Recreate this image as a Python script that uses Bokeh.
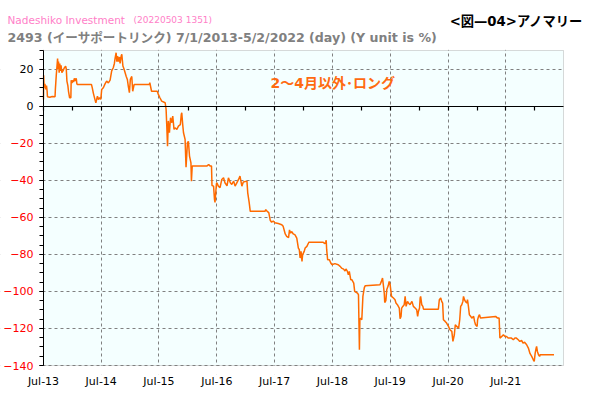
import pandas as pd
from bokeh.plotting import figure
from bokeh.layouts import column
from bokeh.models import (Range1d, FixedTicker, DatetimeTickFormatter, Label, ColumnDataSource,
                          LinearAxis, CustomJSTickFormatter, BoxAnnotation)
from bokeh.embed import file_html
from bokeh.resources import INLINE

# ---------------- data ----------------
dates = [
    "2013-07-01", "2013-07-02", "2013-07-05", "2013-07-10", "2013-07-15", "2013-07-20", "2013-07-24",
    "2013-07-26", "2013-08-10", "2013-08-25", "2013-09-12", "2013-09-14", "2013-09-20", "2013-09-28",
    "2013-10-02", "2013-10-04", "2013-10-08", "2013-10-12", "2013-10-15", "2013-10-20", "2013-10-25",
    "2013-11-01", "2013-11-10", "2013-11-18", "2013-11-22", "2013-11-26", "2013-12-02", "2013-12-06",
    "2013-12-13", "2013-12-21", "2013-12-23", "2013-12-28", "2014-01-03", "2014-01-07", "2014-01-12",
    "2014-01-18", "2014-01-24", "2014-01-28", "2014-01-31", "2014-04-30", "2014-05-05", "2014-05-12",
    "2014-05-18", "2014-05-22", "2014-05-28", "2014-06-03", "2014-06-07", "2014-06-13", "2014-06-20",
    "2014-06-28", "2014-07-04", "2014-07-15", "2014-07-25", "2014-08-04", "2014-08-15", "2014-08-26",
    "2014-09-05", "2014-09-15", "2014-09-22", "2014-09-27", "2014-10-03", "2014-10-08", "2014-10-12",
    "2014-10-18", "2014-10-24", "2014-10-28", "2014-11-04", "2014-11-08", "2014-11-15", "2014-11-22",
    "2014-11-29", "2014-12-06", "2014-12-13", "2014-12-19", "2014-12-26", "2015-01-01", "2015-01-10",
    "2015-01-16", "2015-01-25", "2015-05-01", "2015-05-04", "2015-05-15", "2015-06-20", "2015-06-27",
    "2015-07-07", "2015-07-18", "2015-08-09", "2015-08-15", "2015-08-19", "2015-08-24", "2015-08-29",
    "2015-09-05", "2015-09-12", "2015-09-20", "2015-09-26", "2015-10-04", "2015-10-10", "2015-10-22",
    "2015-11-01", "2015-11-13", "2015-11-19", "2015-11-22", "2015-11-28", "2015-12-03", "2015-12-13",
    "2015-12-19", "2015-12-28", "2016-01-03", "2016-01-10", "2016-01-19", "2016-01-22", "2016-01-27",
    "2016-04-28", "2016-05-10", "2016-05-20", "2016-05-28", "2016-05-31", "2016-06-10", "2016-06-16",
    "2016-06-19", "2016-06-28", "2016-07-01", "2016-07-10", "2016-07-21", "2016-08-01", "2016-08-12",
    "2016-08-21", "2016-09-03", "2016-09-12", "2016-09-24", "2016-10-03", "2016-10-15", "2016-10-24",
    "2016-11-04", "2016-11-15", "2016-11-24", "2016-12-06", "2016-12-15", "2017-01-07", "2017-01-12",
    "2017-01-21", "2017-01-28", "2017-05-01", "2017-05-06", "2017-05-15", "2017-05-25", "2017-06-03",
    "2017-06-12", "2017-06-22", "2017-07-03", "2017-07-24", "2017-08-15", "2017-08-24", "2017-09-06",
    "2017-09-15", "2017-09-27", "2017-10-03", "2017-10-10", "2017-10-16", "2017-10-27", "2017-11-07",
    "2017-11-18", "2017-11-28", "2017-12-04", "2017-12-09", "2017-12-15", "2017-12-21", "2017-12-25",
    "2018-01-04", "2018-01-10", "2018-01-21", "2018-01-31", "2018-02-02", "2018-05-04", "2018-05-15",
    "2018-05-20", "2018-05-23", "2018-05-26", "2018-06-01", "2018-06-12", "2018-06-21", "2018-06-28",
    "2018-07-17", "2018-08-07", "2018-08-19", "2018-08-28", "2018-09-10", "2018-09-19", "2018-09-25",
    "2018-10-04", "2018-10-10", "2018-10-16", "2018-10-25", "2018-11-01", "2018-11-13", "2018-11-19",
    "2018-11-28", "2018-12-07", "2018-12-13", "2018-12-19", "2018-12-22", "2018-12-27", "2019-01-03",
    "2019-01-10", "2019-01-19", "2019-01-25", "2019-04-28", "2019-05-07", "2019-05-14", "2019-05-19",
    "2019-05-25", "2019-05-28", "2019-06-04", "2019-06-10", "2019-06-19", "2019-06-25", "2019-07-01",
    "2019-07-10", "2019-07-22", "2019-08-01", "2019-08-07", "2019-08-16", "2019-08-22", "2019-08-28",
    "2019-09-02", "2019-09-08", "2019-09-12", "2019-09-19", "2019-09-28", "2019-10-04", "2019-10-10",
    "2019-10-19", "2019-10-25", "2019-11-04", "2019-11-16", "2019-11-25", "2019-12-06", "2019-12-16",
    "2019-12-22", "2019-12-27", "2020-01-03", "2020-01-07", "2020-01-10", "2020-01-17", "2020-01-24",
    "2020-01-28", "2020-05-01", "2020-05-07", "2020-05-16", "2020-05-22", "2020-05-28", "2020-06-02",
    "2020-06-13", "2020-06-22", "2020-07-04", "2020-07-13", "2020-07-25", "2020-08-01", "2020-08-10",
    "2020-08-16", "2020-08-25", "2020-09-06", "2020-09-13", "2020-09-19", "2020-09-26", "2020-10-03",
    "2020-10-07", "2020-10-13", "2020-10-19", "2020-10-28", "2020-11-01", "2020-11-07", "2020-11-13",
    "2020-11-22", "2020-11-28", "2020-12-10", "2020-12-16", "2020-12-22", "2021-01-01", "2021-01-04",
    "2021-01-10", "2021-01-16", "2021-01-22", "2021-04-28", "2021-05-10", "2021-05-20", "2021-05-25",
    "2021-06-06", "2021-06-16", "2021-06-26", "2021-07-06", "2021-07-16", "2021-07-28", "2021-08-06",
    "2021-08-18", "2021-08-28", "2021-09-06", "2021-09-18", "2021-09-28", "2021-10-09", "2021-10-18",
    "2021-10-28", "2021-11-10", "2021-11-21", "2021-12-01", "2021-12-12", "2021-12-22", "2021-12-28",
    "2022-01-03", "2022-01-09", "2022-01-12", "2022-01-17", "2022-01-24", "2022-01-31", "2022-02-03",
    "2022-05-02",
]
values = [
    3.6, 16.6, 10, 12, 9, 11, 8,
    5, 4.8, 5.2, 5, 9, 17, 25.6,
    20, 24, 18, 23, 19, 22, 18,
    19, 20.7, 21.5, 20, 13.5, 11, 8,
    4.5, 4.5, 14, 12.5, 14, 13, 15,
    13.5, 15, 12, 11.7, 11.7, 10, 7,
    5, 3.6, 1.8, 4, 5.4, 3.5, 4.5,
    3.6, 9, 10, 12, 13.5, 12.5, 14,
    19, 20.7, 23, 26, 28.8, 24, 27,
    24, 26.5, 23, 27, 28, 21.6, 20,
    18, 16, 14.4, 10.8, 7.2, 14.4, 16,
    8, 11.7, 11.7, 12.6, 8, 8, 6.3,
    4.5, 2.7, 1.8, -1.8, -10, -21.6, -8,
    -14.4, -6.3, -9, -5.4, -12.6, -11.7, -12.6,
    -10.8, -10, -4.5, -3.6, -10, -14.4, -18,
    -33, -19.8, -19, -27, -30.6, -40.5, -32.4,
    -32.4, -31.5, -32.4, -32.4, -42.9, -43.2, -50.5,
    -52, -42, -41.4, -43.2, -44, -39.6, -38.7,
    -41.4, -43, -38.7, -41.4, -42.3, -40.5, -43.2,
    -41.4, -39.6, -37.8, -43.2, -41, -40.5, -46.8,
    -52, -56.8, -56.8, -55.9, -56.8, -57.5, -61.6,
    -62.7, -62, -63, -63.4, -64, -64.9, -69,
    -70.3, -71, -66.8, -68.6, -67.7, -69, -69.5,
    -71.2, -76.6, -77.5, -82, -78.4, -83.8, -80.2,
    -78.4, -76.6, -75.7, -73.9, -73.5, -73.5, -74.2,
    -73.5, -72.4, -77.5, -82.9, -82.9, -84.7, -85.6,
    -85, -85.6, -86.5, -87.4, -88, -89, -87.9,
    -89.2, -91, -89.2, -93.7, -93.7, -95.5, -100,
    -100.5, -101, -101.8, -131.5, -115, -114.4, -115.3,
    -102.7, -98, -96.9, -96.4, -94.6, -92.8, -96.4,
    -100.9, -106, -105, -99, -97, -94.6, -96.4,
    -102.7, -103.6, -104.5, -106.3, -107.2, -108.1, -109,
    -114.8, -113.5, -109, -108.1, -107.2, -102.7, -108.1,
    -105.4, -106.3, -107.2, -105.4, -108.1, -109, -109.9,
    -113.5, -110.8, -109, -103.6, -102.7, -107.2, -108.1,
    -109.6, -109.6, -104.5, -103.6, -105.4, -106.3, -115.3,
    -116.2, -117.1, -118.9, -120.7, -121.6, -127, -123.4,
    -118, -118.9, -119.8, -115.3, -108.1, -107.2, -105.4,
    -102.7, -104.5, -105.4, -106.3, -104.5, -108.1, -112.6,
    -113.5, -114.4, -113.5, -116.2, -118, -118.9, -115.3,
    -113.5, -112.6, -114.4, -113.5, -114.4, -114.4, -125.2,
    -124.3, -123.4, -124.3, -124.3, -125.2, -125.2, -125.2,
    -126.1, -125.2, -125.2, -126.1, -127, -126.5, -127.9,
    -127.4, -128.8, -130.6, -133.5, -135.1, -136.9, -137.8,
    -133.3, -130.6, -129.7, -132.4, -134.2, -135.1, -134.2,
    -134.2,
]

x_tick_dates = ["2013-07-01", "2014-07-01", "2015-07-01", "2016-07-01", "2017-07-01",
                "2018-07-01", "2019-07-01", "2020-07-01", "2021-07-01"]
half_year_dates = ["2013-07-01", "2014-01-01", "2014-07-01", "2015-01-01", "2015-07-01",
                   "2016-01-01", "2016-07-01", "2017-01-01", "2017-07-01", "2018-01-01",
                   "2018-07-01", "2019-01-01", "2019-07-01", "2020-01-01", "2020-07-01",
                   "2021-01-01", "2021-07-01", "2022-01-01"]
y_neg_ticks = [-140, -120, -100, -80, -60, -40, -20]
y_pos_ticks = [0, 20]
y_minor_ticks = [-140, -135, -130, -125, -120, -115, -110, -105, -100, -95, -90, -85, -80,
                 -75, -70, -65, -60, -55, -50, -45, -40, -35, -30, -25, -20, -15, -10,
                 -5, 0, 5, 10, 15, 20, 25, 30]
x_start, x_end = "2013-07-01", "2022-07-01"
y_start, y_end = -140, 30

title_1 = "Nadeshiko Investment"
title_1b = "(20220503 1351)"
title_2 = "2493 (イーサポートリンク) 7/1/2013-5/2/2022 (day)  (Y unit is %)"
title_right = "<図—04>アノマリー"
note = "2～4月以外･ロング"

# ---------------- layout constants (pixels) ----------------
AXIS_FONT = "DejaVu Sans"
CJK = "DejaVu Sans, Noto Sans CJK JP"
W = 590
HEADER_H = 49
PLOT_LEFT, PLOT_RIGHT = 43, 563      # plot box, page pixels
PLOT_H = 315                          # plot box height
PAD_TOP, PAD_BOTTOM = 1, 9            # frame overhang above / below the plot box
BOTTOM = 22
MAIN_H = PLOT_H + PAD_TOP + PAD_BOTTOM + BOTTOM
BG = "#F4FFFF"
GRID = "#808080"


def ms(d):
    return pd.Timestamp(d).value / 1e6


x0, x1 = ms(x_start), ms(x_end)
px_x = (PLOT_RIGHT - PLOT_LEFT) / (x1 - x0)
px_y = PLOT_H / (y_end - y_start)
frame_x = (x0 - PLOT_LEFT / px_x, x1 + (W - PLOT_RIGHT) / px_x)
frame_y = (y_start - PAD_BOTTOM / px_y, y_end + PAD_TOP / px_y)

# ---------------- header (titles) ----------------
hdr = figure(width=W, height=HEADER_H, x_range=Range1d(0, W), y_range=Range1d(HEADER_H, 0),
             output_backend="svg", toolbar_location=None, x_axis_location=None,
             y_axis_location=None, min_border=0)
hdr.outline_line_color = None
hdr.grid.visible = False
hdr.background_fill_color = "white"
hdr.border_fill_color = "white"
hdr.title.visible = False

hdr.add_layout(Label(x=7, y=19.5, text=title_1, text_font=AXIS_FONT, text_font_size="10.5px",
                     text_color="#FF80C8", text_baseline="alphabetic"))
hdr.add_layout(Label(x=133, y=19.5, text=title_1b, text_font=AXIS_FONT, text_font_size="9px",
                     text_color="#FF80C8", text_baseline="alphabetic"))
hdr.add_layout(Label(x=7, y=36.5, text=title_2, text_font=CJK, text_font_size="12.6px",
                     text_font_style="bold", text_color="#808080", text_baseline="alphabetic"))
hdr.add_layout(Label(x=583, y=20.5, text=title_right, text_font=CJK, text_font_size="13.3px",
                     text_font_style="bold", text_color="black", text_align="right",
                     text_baseline="alphabetic"))

# ---------------- main plot ----------------
p = figure(width=W, height=MAIN_H, x_axis_type="datetime", y_axis_location=None,
           x_range=Range1d(*frame_x), y_range=Range1d(*frame_y),
           output_backend="svg", toolbar_location=None,
           min_border_left=0, min_border_right=0, min_border_top=0, min_border_bottom=BOTTOM)
p.title.visible = False
p.background_fill_color = "white"
p.border_fill_color = "white"
p.outline_line_color = None

# plot box background (behind the grid)
p.add_layout(BoxAnnotation(left=x0, right=x1, bottom=y_start, top=y_end, fill_color=BG,
                           fill_alpha=1, line_color=None, level="image"))

# bottom x axis: labels only
xt = FixedTicker(ticks=[ms(d) for d in x_tick_dates])
fmt = "%b-%y"
xax = p.below[0]
xax.ticker = xt
xax.formatter = DatetimeTickFormatter(years=fmt, months=fmt, days=fmt, hours=fmt, hourmin=fmt,
                                      minutes=fmt, minsec=fmt, seconds=fmt,
                                      milliseconds=fmt, microseconds=fmt)
xax.axis_line_color = None
xax.major_tick_line_color = None
xax.minor_tick_line_color = None
xax.major_tick_in = 0
xax.major_tick_out = 0
xax.major_label_standoff = 0
xax.major_label_text_font = AXIS_FONT
xax.major_label_text_font_size = "11px"
xax.major_label_text_color = "black"

# grids
p.xgrid.ticker = xt
p.xgrid.grid_line_color = GRID
p.xgrid.grid_line_dash = "3 3"
p.ygrid.ticker = FixedTicker(ticks=y_neg_ticks + [20])
p.ygrid.grid_line_color = GRID
p.ygrid.grid_line_dash = "3 3"

# white masks outside the plot box (hide grid overhang), then the grey box border
far = 1e13
mask_kw = dict(fill_color="white", fill_alpha=1, line_color=None, level="underlay")
p.add_layout(BoxAnnotation(left=frame_x[0] - far, right=x0, bottom=-1e6, top=1e6, **mask_kw))
p.add_layout(BoxAnnotation(left=x1 + 0.5 / px_x, right=frame_x[1] + far, bottom=-1e6, top=1e6, **mask_kw))
p.add_layout(BoxAnnotation(left=-far, right=far, bottom=y_end + 0.5 / px_y, top=1e6, **mask_kw))
p.add_layout(BoxAnnotation(left=-far, right=far, bottom=-1e6, top=y_start - 0.5 / px_y, **mask_kw))
p.add_layout(BoxAnnotation(left=x0, right=x1, bottom=y_start, top=y_end, fill_color=None,
                           line_color=GRID, line_width=1, level="underlay"))

# left y axis (fixed at the plot box edge): red negative labels, all ticks
yax = LinearAxis(fixed_location=x0, bounds=(y_start, y_end),
                 ticker=FixedTicker(ticks=y_neg_ticks + y_pos_ticks, minor_ticks=y_minor_ticks),
                 axis_line_color="black", major_tick_line_color="black",
                 minor_tick_line_color="black", major_tick_in=0, major_tick_out=4,
                 minor_tick_in=0, minor_tick_out=4, major_label_standoff=6,
                 major_label_text_font=AXIS_FONT, major_label_text_font_size="11px",
                 major_label_text_color="#FF0000", major_label_overrides={0: "", 20: ""})
p.add_layout(yax, "left")

# black labels for the non-negative ticks
ypos = LinearAxis(fixed_location=x0, bounds=(y_start, y_end), ticker=FixedTicker(ticks=y_pos_ticks),
                  axis_line_color=None, major_tick_line_color=None, minor_tick_line_color=None,
                  major_tick_in=0, major_tick_out=4, major_label_standoff=6,
                  major_label_text_font=AXIS_FONT, major_label_text_font_size="11px",
                  major_label_text_color="black")
p.add_layout(ypos, "left")

# zero line with half-year ticks
zero_axis = LinearAxis(fixed_location=0, bounds=(x0, x1),
                       ticker=FixedTicker(ticks=[ms(d) for d in half_year_dates]),
                       formatter=CustomJSTickFormatter(code="return ''"),
                       axis_line_color="black", axis_line_width=1.2,
                       major_tick_line_color="black", major_tick_line_width=1.2,
                       major_tick_in=0, major_tick_out=4, minor_tick_line_color=None)
p.add_layout(zero_axis, "below")

# data line
src = ColumnDataSource(dict(x=pd.to_datetime(dates), y=values))
p.line("x", "y", source=src, line_color="#FF6A00", line_width=1.5)

# annotation inside the plot
p.add_layout(Label(x=x0, y=y_end, x_offset=227, y_offset=-32, text=note,
                   text_font=CJK, text_font_size="14px", text_font_style="bold",
                   text_color="#FF6A10", text_baseline="middle"))

layout = column(hdr, p, spacing=0)
open("out.html", "w").write(file_html(layout, INLINE))
